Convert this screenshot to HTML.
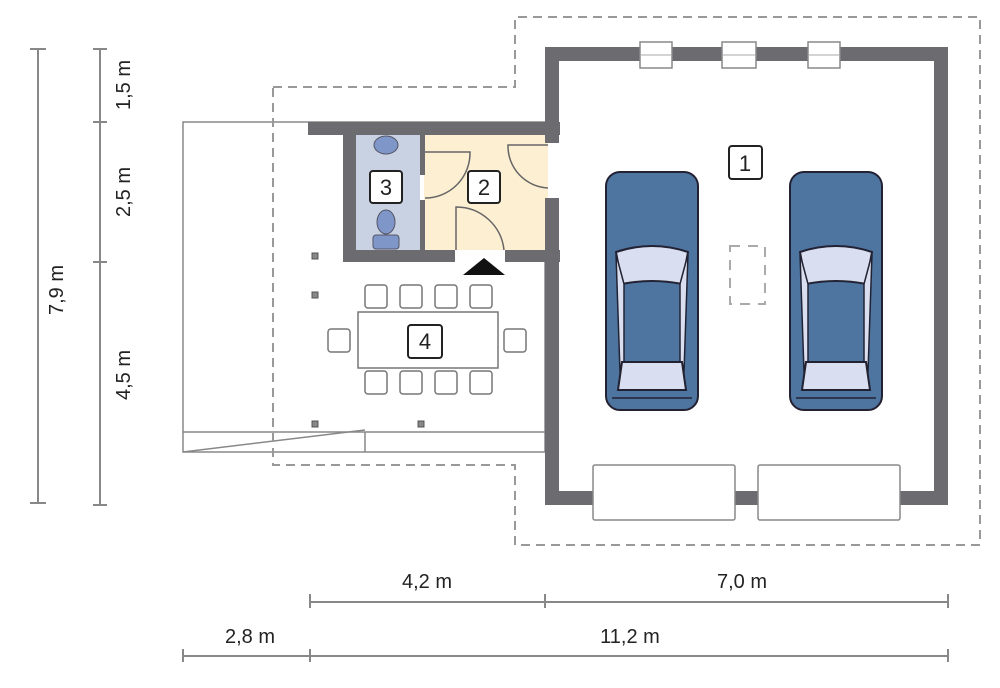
<!DOCTYPE html>
<html><head><meta charset="utf-8"><style>
html,body{margin:0;padding:0;background:#fff;width:1000px;height:688px;overflow:hidden}
svg{display:block}
text{font-family:"Liberation Sans",sans-serif;fill:#222}
</style></head><body>
<svg width="1000" height="688" viewBox="0 0 1000 688">
<g stroke="#888" stroke-width="2" fill="none">
<line x1="38" y1="49" x2="38" y2="503"/><line x1="30" y1="49" x2="46" y2="49"/><line x1="30" y1="503" x2="46" y2="503"/>
<line x1="100" y1="49" x2="100" y2="505"/><line x1="93" y1="49" x2="107" y2="49"/><line x1="93" y1="122" x2="107" y2="122"/><line x1="93" y1="262" x2="107" y2="262"/><line x1="93" y1="505" x2="107" y2="505"/>
<line x1="310" y1="602" x2="948" y2="602"/><line x1="310" y1="594" x2="310" y2="608"/><line x1="545" y1="594" x2="545" y2="608"/><line x1="948" y1="594" x2="948" y2="608"/>
<line x1="183" y1="656" x2="948" y2="656"/><line x1="183" y1="649" x2="183" y2="662"/><line x1="310" y1="649" x2="310" y2="662"/><line x1="948" y1="649" x2="948" y2="662"/>
</g>
<g font-size="20">
<text x="427" y="588" text-anchor="middle">4,2 m</text>
<text x="742" y="588" text-anchor="middle">7,0 m</text>
<text x="250" y="643" text-anchor="middle">2,8 m</text>
<text x="630" y="643" text-anchor="middle">11,2 m</text>
<text transform="translate(130,85) rotate(-90)" text-anchor="middle">1,5 m</text>
<text transform="translate(130,192) rotate(-90)" text-anchor="middle">2,5 m</text>
<text transform="translate(130,375) rotate(-90)" text-anchor="middle">4,5 m</text>
<text transform="translate(63,290) rotate(-90)" text-anchor="middle">7,9 m</text>
</g>
<g stroke="#888" stroke-width="1.5" fill="none">
<rect x="183" y="122" width="362" height="330"/>
<line x1="183" y1="432" x2="545" y2="432"/>
<line x1="365" y1="432" x2="365" y2="452"/>
<line x1="183" y1="452" x2="365" y2="430"/>
</g>
<path d="M273 87 H515 V17 H980 V545 H515 V465 H273 Z" fill="none" stroke="#999" stroke-width="2" stroke-dasharray="9 6"/>
<rect x="356" y="135" width="64" height="115" fill="#c9d2e2"/>
<rect x="424" y="135" width="124" height="115" fill="#fcefd2"/>
<g fill="#6b6b70">
<rect x="545" y="47" width="403" height="14"/>
<rect x="934" y="47" width="14" height="458"/>
<rect x="545" y="47" width="14" height="96"/>
<rect x="545" y="198" width="14" height="307"/>
<rect x="545" y="491" width="403" height="14"/>
<rect x="308" y="122" width="252" height="13"/>
<rect x="343" y="122" width="13" height="140"/>
<rect x="343" y="250" width="112" height="12"/>
<rect x="505" y="250" width="55" height="12"/>
<rect x="420" y="135" width="5" height="40"/>
<rect x="420" y="200" width="5" height="55"/>
</g>
<g fill="#fff" stroke="#888" stroke-width="1.5">
<rect x="640" y="42" width="32" height="26"/><rect x="722" y="42" width="34" height="26"/><rect x="808" y="42" width="32" height="26"/>
<rect x="593" y="465" width="142" height="55" rx="2"/><rect x="758" y="465" width="142" height="55" rx="2"/>
</g>
<g stroke="#aaa" stroke-width="1"><line x1="640" y1="55" x2="672" y2="55"/><line x1="722" y1="55" x2="756" y2="55"/><line x1="808" y1="55" x2="840" y2="55"/></g>
<g stroke="#666" stroke-width="1.5" fill="none">
<path d="M425 152 H470 A45 45 0 0 1 425 198"/>
<path d="M548 145 H508 A42 42 0 0 0 548 188"/>
<path d="M456 250 V207 A48 48 0 0 1 504 250"/>
</g>
<rect x="455" y="250" width="50" height="12" fill="#fff"/>
<polygon points="463,275 484,258 505,275" fill="#111"/>
<g fill="#7e96c8" stroke="#556" stroke-width="1">
<ellipse cx="386" cy="145" rx="12" ry="9"/>
<ellipse cx="386" cy="222" rx="9" ry="12"/>
<rect x="373" y="235" width="26" height="14" rx="3"/>
</g>
<g fill="#888" stroke="#555"><rect x="312" y="253" width="6" height="6"/><rect x="312" y="292" width="6" height="6"/><rect x="312" y="421" width="6" height="6"/><rect x="418" y="421" width="6" height="6"/></g>
<g fill="#fff" stroke="#777" stroke-width="1.5">
<rect x="358" y="312" width="140" height="56"/>
<rect x="365" y="285" width="22" height="23" rx="3"/><rect x="400" y="285" width="22" height="23" rx="3"/><rect x="435" y="285" width="22" height="23" rx="3"/><rect x="470" y="285" width="22" height="23" rx="3"/>
<rect x="365" y="371" width="22" height="23" rx="3"/><rect x="400" y="371" width="22" height="23" rx="3"/><rect x="435" y="371" width="22" height="23" rx="3"/><rect x="470" y="371" width="22" height="23" rx="3"/>
<rect x="328" y="329" width="22" height="23" rx="3"/><rect x="504" y="329" width="22" height="23" rx="3"/>
</g>
<rect x="730" y="246" width="35" height="58" fill="none" stroke="#aaa" stroke-width="2" stroke-dasharray="10 8"/>
<defs><g id="car">
<rect x="0" y="0" width="92" height="238" rx="14" fill="#4e74a0" stroke="#223" stroke-width="2"/>
<path d="M10 80 Q46 68 82 80 L76 112 Q46 106 16 112 Z" fill="#d9dff0" stroke="#223" stroke-width="2"/>
<path d="M10 82 L14 200 L18 200 L18 112 Z" fill="#d9dff0" stroke="#223" stroke-width="1.5"/>
<path d="M82 82 L78 200 L74 200 L74 112 Z" fill="#d9dff0" stroke="#223" stroke-width="1.5"/>
<path d="M16 190 H76 L80 218 H12 Z" fill="#d9dff0" stroke="#223" stroke-width="2"/>
<line x1="6" y1="226" x2="86" y2="226" stroke="#223" stroke-width="1.5"/>
</g></defs>
<use href="#car" x="606" y="172"/>
<use href="#car" x="790" y="172"/>
<g fill="#fff" stroke="#222" stroke-width="2">
<rect x="370" y="171" width="32" height="32" rx="3"/><rect x="468" y="171" width="32" height="32" rx="3"/><rect x="729" y="146" width="33" height="33" rx="3"/><rect x="408" y="325" width="34" height="33" rx="3"/>
</g>
<g font-size="22" text-anchor="middle">
<text x="386" y="195">3</text><text x="484" y="195">2</text><text x="745" y="171">1</text><text x="425" y="349">4</text>
</g>
</svg>
</body></html>
